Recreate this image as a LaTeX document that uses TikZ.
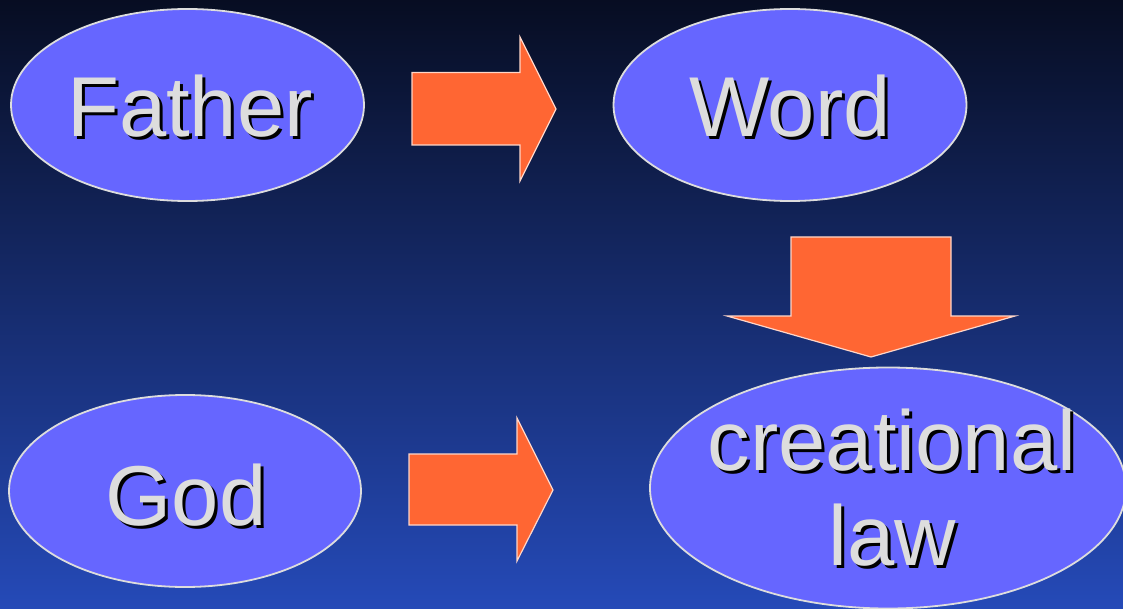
\documentclass[tikz,border=0pt]{standalone}
\usepackage{fontspec}
\setmainfont{Liberation Sans}
\usetikzlibrary{shapes.geometric}

\definecolor{bgtop}{RGB}{7,13,34}
\definecolor{bgbot}{RGB}{37,74,184}
\definecolor{bubblefill}{RGB}{102,102,255}
\definecolor{rimgray}{RGB}{221,221,221}
\definecolor{blockorange}{RGB}{255,102,51}
\definecolor{blockrim}{RGB}{255,214,200}

% word with a black drop shadow behind it
\newcommand{\shadowed}[1]{\makebox[0pt][l]{\hspace{3pt}\raisebox{-3pt}{\color{black}#1}}#1}

\tikzset{
    bubble/.style={ellipse, draw=rimgray, line width=1.8pt, fill=bubblefill, inner sep=0pt},
    lettering/.style={anchor=base, text=rimgray, inner sep=0pt, font=\fontsize{85}{95}\selectfont},
    blockarrow/.style={fill=blockorange, draw=blockrim, line width=1.2pt, line join=miter}
}

\begin{document}
\begin{tikzpicture}[x=1pt, y=-1pt]
            \useasboundingbox (0,0) rectangle (1123,609);
            \clip (0,0) rectangle (1123,609);
            \shade[top color=bgtop, bottom color=bgbot] (0,0) rectangle (1123,609);

            % ellipses
            \node[bubble, minimum width=353pt, minimum height=192pt] (father) at (187.5,105) {};
            \node[bubble, minimum width=353pt, minimum height=192pt] (word) at (790,105) {};
            \node[bubble, minimum width=352pt, minimum height=192pt] (god) at (185,491) {};
            \node[bubble, minimum width=476pt, minimum height=241pt] (law) at (888,488) {};

            % words
            \node[lettering] (fathertext) at (190,137) {\shadowed{Father}};
            \node[lettering] (wordtext) at (790,137) {\shadowed{Word}};
            \node[lettering] (godtext) at (186,525) {\shadowed{God}};
            \node[lettering] (lawtext1) at (892,470) {\shadowed{creational}};
            \node[lettering] (lawtext2) at (892,565) {\shadowed{law}};

            % block arrows
            \draw[blockarrow] (412,72.5) -- (520,72.5) -- (520,37) -- (556,109) -- (520,181) -- (520,145) -- (412,145) -- cycle;
            \draw[blockarrow] (409,454) -- (517,454) -- (517,418) -- (553,490) -- (517,561) -- (517,525) -- (409,525) -- cycle;
            \draw[blockarrow] (791,237) -- (951,237) -- (951,316) -- (1015,316) -- (871,357) -- (727,316) -- (791,316) -- cycle;
\end{tikzpicture}
\end{document}
